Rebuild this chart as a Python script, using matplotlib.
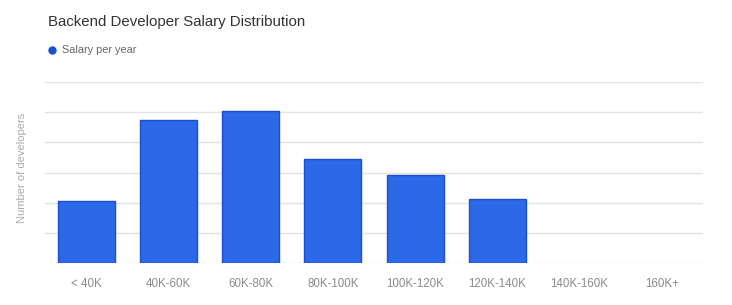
import matplotlib
matplotlib.use("Agg")
import matplotlib.pyplot as plt

plt.rcParams['font.family'] = ['Liberation Sans', 'DejaVu Sans']

categories = ["< 40K", "40K-60K", "60K-80K", "80K-100K", "100K-120K", "120K-140K", "140K-160K", "160K+"]
values = [2.07, 4.74, 5.03, 3.46, 2.92, 2.13, 0, 0]
series_name = "Salary per year"
title = "Backend Developer Salary Distribution"
ylabel = "Number of developers"

fig = plt.figure(figsize=(7.32, 3.05), dpi=100)
ax = fig.add_axes([45/732, 1-263/305, (703-45)/732, (263-82)/305])

x = list(range(len(categories)))
lws = [1.0 if v > 0 else 0 for v in values]
ax.bar(x, values, width=0.69, color="#2b69e6", edgecolor="#1a4fd0", linewidth=lws, zorder=3)
ax.set_xlim(-0.5, len(categories)-0.5)
ax.set_ylim(0, 6)
ax.set_yticks(range(0, 7))
ax.set_yticklabels([])
ax.tick_params(axis='y', length=0)
ax.grid(axis='y', color="#e3e3e3", linewidth=1.0, zorder=0)
ax.set_xticks(x)
ax.set_xticklabels(categories, fontsize=8.3, color="#8a8a8a")
ax.tick_params(axis='x', length=0, pad=11)
for s in ax.spines.values():
    s.set_visible(False)

fig.text(22/732, 1-168/305, ylabel, rotation=90, ha='center', va='center', fontsize=8.0, color="#aaaaaa")
fig.text(48/732, 1-22/305, title, ha='left', va='center', fontsize=10.8, color="#333333")
lax = fig.add_axes([0, 0, 1, 1], facecolor='none')
lax.set_xlim(0, 732)
lax.set_ylim(305, 0)
lax.axis('off')
lax.plot([52], [50], marker='o', markersize=5, color="#1a4fd0", linestyle='none')
fig.text(62/732, 1-50/305, series_name, ha='left', va='center', fontsize=7.8, color="#666666")

fig.savefig("out.png", dpi=100)
